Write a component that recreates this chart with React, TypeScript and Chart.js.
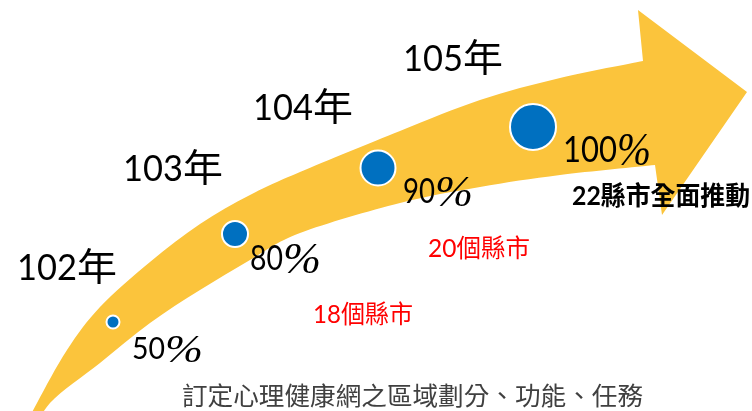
import React, { useEffect, useRef } from 'react';
import { Chart, registerables } from 'chart.js';
Chart.register(...registerables);

// ---- data ----
const years = ['102', '103', '104', '105'];
const yearSuffix = '年';
const coverage = [50, 80, 90, 100];
const countyNotes = ['', '18個縣市', '20個縣市', '22縣市全面推動'];
const caption = '訂定心理健康網之區域劃分、功能、任務';
// position of each milestone along the arrow (chart units)
const milestoneX = [113, 235, 378, 533];
const milestoneY = [322, 234, 168, 127];
const milestoneSize = [6.5, 13, 17.5, 23];

// arrow outline (chart units)
const arrowUpper = [[18, 440], [37, 403], [67, 350], [100, 307], [150, 262], [200, 224], [250, 195], [300, 172], [400, 131], [480, 100], [560, 78], [643, 61]];
const arrowHead = [[638, 10], [747, 92], [662, 215]];
const arrowLower = [[655, 165], [560, 175], [480, 187], [400, 203], [300, 233], [250, 260], [200, 290], [150, 323], [100, 363], [50, 403], [30, 440]];

function curveThrough(ctx: CanvasRenderingContext2D, pts: number[][], first: boolean) {
  if (first) ctx.moveTo(pts[0][0], pts[0][1]);
  else ctx.lineTo(pts[0][0], pts[0][1]);
  for (let i = 0; i < pts.length - 1; i++) {
    const p0 = pts[i - 1] || pts[i];
    const p1 = pts[i];
    const p2 = pts[i + 1];
    const p3 = pts[i + 2] || p2;
    ctx.bezierCurveTo(
      p1[0] + (p2[0] - p0[0]) / 6, p1[1] + (p2[1] - p0[1]) / 6,
      p2[0] - (p3[0] - p1[0]) / 6, p2[1] - (p3[1] - p1[1]) / 6,
      p2[0], p2[1]
    );
  }
}

function fitText(ctx: CanvasRenderingContext2D, text: string, x: number, base: number, font: string, width: number, color: string) {
  ctx.font = font;
  const w = ctx.measureText(text).width;
  ctx.save();
  ctx.translate(x, base);
  ctx.scale(width / w, 1);
  ctx.fillStyle = color;
  ctx.textBaseline = 'alphabetic';
  ctx.textAlign = 'left';
  ctx.fillText(text, 0, 0);
  ctx.restore();
}

// label layout (pixels): x, baseline, digit font px, digit width, percent-sign width
const yearLabelLayout = [[17, 280], [123, 181], [253, 120], [403, 71]];
const pctLabelLayout = [[132, 359, 30, 16.5, 38], [250, 270, 34, 16.5, 38], [403, 203, 34, 16, 38], [563, 162, 36, 18, 34]];
const noteLayout = [[0, 0, 0], [313, 323, 100], [428, 257, 102], [572, 205, 178]];

const arrowPlugin = {
  id: 'arrowPlugin',
  beforeDatasetsDraw(chart: any) {
    const ctx = chart.ctx as CanvasRenderingContext2D;
    const xs = chart.scales.x;
    const ys = chart.scales.y;
    const map = (p: number[]) => [xs.getPixelForValue(p[0]), ys.getPixelForValue(p[1])];
    ctx.save();
    ctx.beginPath();
    curveThrough(ctx, arrowUpper.map(map), true);
    arrowHead.map(map).forEach((p) => ctx.lineTo(p[0], p[1]));
    curveThrough(ctx, arrowLower.map(map), false);
    ctx.closePath();
    ctx.fillStyle = '#FBC43C';
    ctx.fill();
    ctx.restore();
  },
  afterDatasetsDraw(chart: any) {
    const ctx = chart.ctx as CanvasRenderingContext2D;
    years.forEach((y, i) => {
      const [x, b] = yearLabelLayout[i];
      fitText(ctx, y, x, b, '36px Lato', 20 * y.length, '#000');
      fitText(ctx, yearSuffix, x + 20 * y.length, b, '38px "Noto Sans CJK TC"', 40, '#000');
    });
    coverage.forEach((v, i) => {
      const [x, b, fs, dw, pw] = pctLabelLayout[i];
      const s = String(v);
      fitText(ctx, s, x, b, fs + 'px Lato', dw * s.length, '#000');
      fitText(ctx, '%', x + dw * s.length, b + 3, 'italic ' + Math.round(fs * 1.3) + 'px "Liberation Serif"', pw, '#000');
    });
    countyNotes.forEach((t, i) => {
      if (!t) return;
      const [x, b, w] = noteLayout[i];
      const last = i === countyNotes.length - 1;
      fitText(ctx, t, x, b, (last ? 'bold 26px' : '25px') + ' Lato, "Noto Sans CJK TC"', w, last ? '#000' : '#FF0000');
    });
    fitText(ctx, caption, 182, 405, '25px "Noto Sans CJK TC"', 461, '#404040');
  },
};

export default function App() {
  const ref = useRef<HTMLCanvasElement | null>(null);
  useEffect(() => {
    document.body.style.margin = '0';
    const chart = new Chart(ref.current!, {
      type: 'bubble',
      data: {
        datasets: [
          {
            label: 'coverage',
            data: coverage.map((v, i) => ({ x: milestoneX[i], y: milestoneY[i], r: milestoneSize[i], v })),
            backgroundColor: '#0070C0',
            borderColor: '#FFFFFF',
            borderWidth: 2,
            clip: false as any,
          },
        ],
      },
      options: {
        responsive: false,
        animation: false,
        events: [],
        layout: { padding: 0, autoPadding: false } as any,
        plugins: { legend: { display: false }, tooltip: { enabled: false } },
        scales: {
          x: { type: 'linear', min: 0, max: 752, display: false },
          y: { type: 'linear', min: 0, max: 411, reverse: true, display: false },
        },
      },
      plugins: [arrowPlugin],
    });
    return () => chart.destroy();
  }, []);
  return (
    <div style={{ position: 'absolute', left: 0, top: 0, width: 752, height: 411, background: '#fff' }}>
      <canvas ref={ref} width={752} height={411} />
    </div>
  );
}
